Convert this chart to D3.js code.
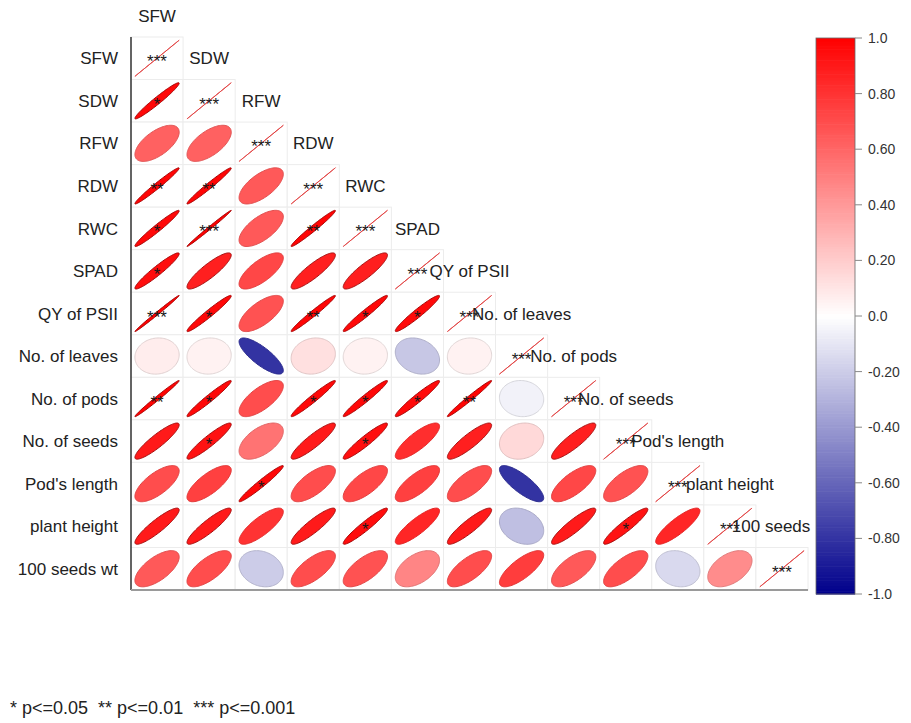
<!DOCTYPE html>
<html>
<head>
<meta charset="utf-8">
<script src="https://cdn.jsdelivr.net/npm/d3@7"></script>
<style>
  body { margin: 0; background: #fff; }
  text { font-family: "Liberation Sans", Arial, sans-serif; }
</style>
</head>
<body>
<svg id="chart" width="911" height="723"></svg>
<script>
// ---- data ----
const variables = ["SFW","SDW","RFW","RDW","RWC","SPAD","QY of PSII","No. of leaves",
  "No. of pods","No. of seeds","Pod's length","plant height","100 seeds wt"];

// lower-triangle correlations, row i holds columns 0..i-1
const corrLower = [
  [],
  [0.97],
  [0.62, 0.62],
  [0.98, 0.98, 0.65],
  [0.97, 0.995, 0.65, 0.98],
  [0.95, 0.88, 0.72, 0.88, 0.88],
  [0.995, 0.97, 0.68, 0.98, 0.97, 0.96],
  [0.07, 0.05, -0.80, 0.12, 0.05, -0.22, 0.05],
  [0.99, 0.97, 0.70, 0.97, 0.97, 0.96, 0.985, -0.05],
  [0.90, 0.93, 0.55, 0.90, 0.94, 0.82, 0.88, 0.15, 0.88],
  [0.70, 0.75, 0.97, 0.70, 0.72, 0.75, 0.70, -0.80, 0.72, 0.68],
  [0.90, 0.90, 0.80, 0.90, 0.95, 0.85, 0.90, -0.25, 0.90, 0.93, 0.85],
  [0.65, 0.70, -0.20, 0.70, 0.68, 0.48, 0.70, 0.76, 0.65, 0.70, -0.15, 0.45]
];
const diagCorr = 1.0;

const starsLower = [
  [],
  ["*"],
  ["", ""],
  ["**", "**", ""],
  ["*", "***", "", "**"],
  ["*", "", "", "", ""],
  ["***", "*", "", "**", "*", "*"],
  ["", "", "", "", "", "", ""],
  ["**", "*", "", "*", "*", "*", "**", ""],
  ["", "*", "", "", "*", "", "", "", ""],
  ["", "", "*", "", "", "", "", "", "", ""],
  ["", "", "", "", "*", "", "", "", "", "*", ""],
  ["", "", "", "", "", "", "", "", "", "", "", ""]
];
const diagStars = "***";

const legendTicks = [1.0, 0.8, 0.6, 0.4, 0.2, 0.0, -0.2, -0.4, -0.6, -0.8, -1.0];
const legendTickLabels = ["1.0","0.80","0.60","0.40","0.20","0.0","-0.20","-0.40","-0.60","-0.80","-1.0"];
const sigNote = "* p<=0.05  ** p<=0.01  *** p<=0.001";

// ---- layout ----
const svg = d3.select("#chart");
const x = d3.scaleBand().domain(variables).range([131, 808]);
const y = d3.scaleBand().domain(variables).range([37, 590]);
const color = d3.scaleLinear().domain([-1, 0, 1]).range(["#00008B", "#FFFFFF", "#FF0000"]);
const cw = x.bandwidth(), ch = y.bandwidth();

// build cells
const cells = [];
variables.forEach((rv, i) => {
  corrLower[i].forEach((r, j) => cells.push({i, j, r, s: starsLower[i][j]}));
  cells.push({i, j: i, r: diagCorr, s: diagStars});
});

const defs = svg.append("defs");
defs.append("clipPath").attr("id", "plotclip")
  .append("rect").attr("x", 0).attr("y", 0).attr("width", 812).attr("height", 600);

// grid
svg.append("g").selectAll("rect").data(cells).join("rect")
  .attr("x", d => x(variables[d.j])).attr("y", d => y(variables[d.i]))
  .attr("width", cw).attr("height", ch)
  .attr("fill", "#fff").attr("stroke", "#ececec").attr("stroke-width", 1);

// ellipses (corrplot-style)
function ellipsePts(r, n = 99) {
  const a = Math.acos(Math.max(-1, Math.min(1, r)));
  const pts = [];
  for (let k = 0; k < n; k++) {
    const t = 2 * Math.PI * k / (n - 1);
    pts.push([0.425 * Math.cos(t + a / 2), 0.425 * Math.cos(t - a / 2)]);
  }
  return pts;
}
const g = svg.append("g");
cells.forEach(d => {
  const cx = x(variables[d.j]) + cw / 2, cy = y(variables[d.i]) + ch / 2;
  const line = d3.line().x(p => cx + p[0] * cw).y(p => cy - p[1] * ch).curve(d3.curveLinearClosed);
  const c = color(d.r);
  if (d.r >= 0.999) {
    g.append("path").attr("d", line(ellipsePts(d.r)))
      .attr("fill", "none").attr("stroke", "#e03a3a").attr("stroke-width", 0.9);
  } else {
    g.append("path").attr("d", line(ellipsePts(d.r)))
      .attr("fill", c).attr("stroke", d3.color(c).darker(d.r > 0.85 ? 1.2 : 0.35)).attr("stroke-width", 1);
  }
});

// stars
svg.append("g").selectAll("text").data(cells.filter(d => d.s)).join("text")
  .attr("x", d => x(variables[d.j]) + cw / 2)
  .attr("y", d => y(variables[d.i]) + ch / 2 + 9)
  .attr("text-anchor", "middle").attr("font-size", 17).attr("fill", "#1a1a1a")
  .text(d => d.s);

// axes lines
svg.append("line").attr("x1", 131).attr("x2", 131).attr("y1", 37).attr("y2", 590)
  .attr("stroke", "#333").attr("stroke-width", 1.5);
svg.append("line").attr("x1", 131).attr("x2", 808).attr("y1", 590).attr("y2", 590)
  .attr("stroke", "#9a9a9a").attr("stroke-width", 2);

// row labels
svg.append("g").selectAll("text").data(variables).join("text")
  .attr("x", 118).attr("y", d => y(d) + ch / 2).attr("dy", "0.36em")
  .attr("text-anchor", "end").attr("font-size", 17).attr("fill", "#222").text(d => d);

// diagonal labels (one row above the diagonal)
svg.append("g").attr("clip-path", "url(#plotclip)")
  .selectAll("text").data(variables).join("text")
  .attr("x", d => x(d) + cw / 2).attr("y", d => y(d) - ch / 2).attr("dy", "0.36em")
  .attr("text-anchor", "middle").attr("font-size", 17).attr("fill", "#222").text(d => d);

// colour legend
const ly = d3.scaleLinear().domain([-1, 1]).range([594, 38]);
const bins = d3.range(-1, 1, 0.01);
svg.append("g").selectAll("rect").data(bins).join("rect")
  .attr("x", 816).attr("width", 39)
  .attr("y", d => ly(d + 0.01)).attr("height", d => ly(d) - ly(d + 0.01) + 0.6)
  .attr("fill", d => color(d + 0.005));
svg.append("rect").attr("x", 816).attr("y", ly(1)).attr("width", 39).attr("height", ly(-1) - ly(1))
  .attr("fill", "none").attr("stroke", "#666").attr("stroke-width", 0.8);
const lt = svg.append("g");
lt.selectAll("line").data(legendTicks).join("line")
  .attr("x1", 855).attr("x2", 862).attr("y1", d => ly(d)).attr("y2", d => ly(d))
  .attr("stroke", "#888").attr("stroke-width", 1);
lt.selectAll("text").data(legendTicks).join("text")
  .attr("x", 868).attr("y", d => ly(d)).attr("dy", "0.36em")
  .attr("font-size", 14).attr("fill", "#333")
  .text((d, i) => legendTickLabels[i]);

// significance note
svg.append("text").attr("x", 10).attr("y", 714).attr("font-size", 18).attr("fill", "#222")
  .attr("xml:space", "preserve").style("white-space", "pre").text(sigNote);
</script>
</body>
</html>
